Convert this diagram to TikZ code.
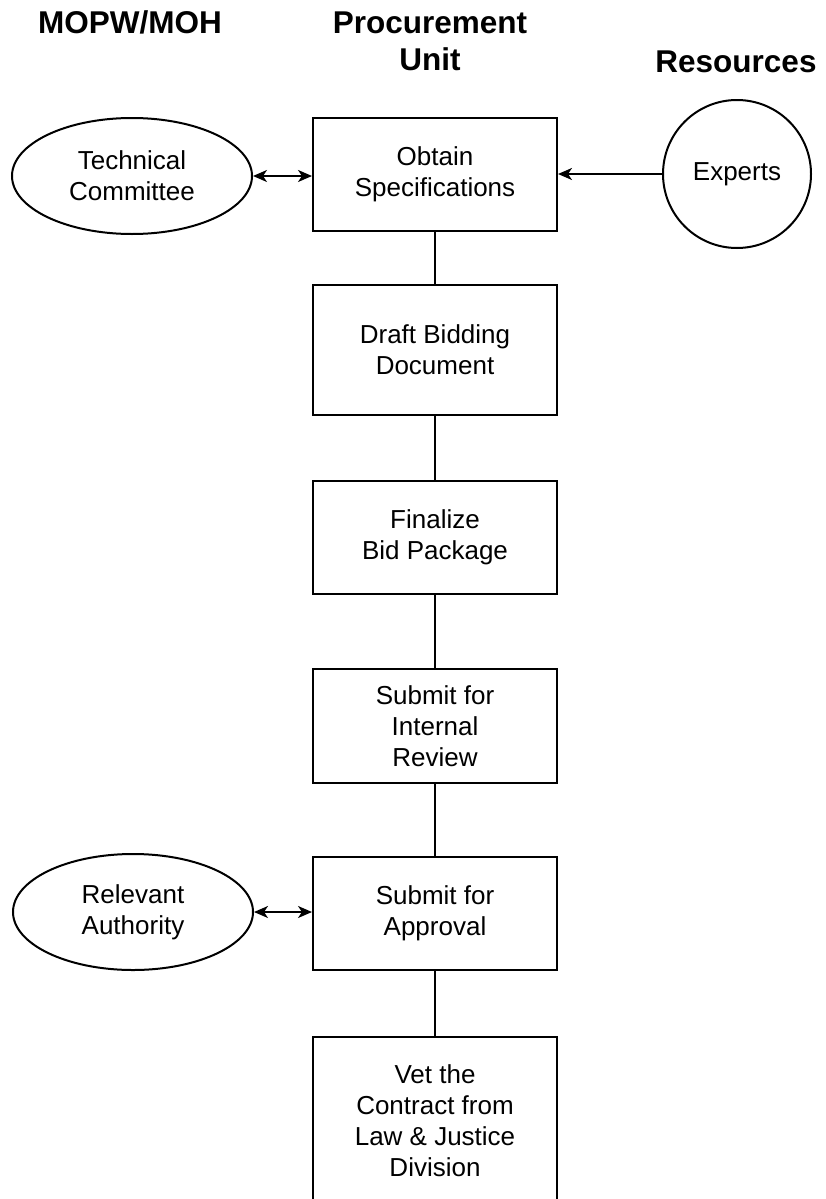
\documentclass[tikz,border=0pt]{standalone}
\usepackage{fontspec}
\setmainfont{Liberation Sans}
\usetikzlibrary{arrows.meta,shapes.geometric}
\begin{document}
\begin{tikzpicture}[x=1pt,y=-1pt,
  stepbox/.style={draw,line width=2pt,minimum width=244pt,align=center,
    inner sep=0pt,font=\fontsize{26}{31}\selectfont},
  party/.style={draw,ellipse,line width=2pt,minimum width=240pt,minimum height=116pt,
    align=center,inner sep=0pt,font=\fontsize{26}{31}\selectfont},
  source/.style={draw,circle,line width=2pt,minimum size=148pt,
    inner sep=0pt,font=\fontsize{26}{31}\selectfont},
  header/.style={align=center,inner sep=0pt,font=\bfseries\fontsize{31.5}{37}\selectfont},
  link/.style={line width=2pt},
  tip/.tip={Stealth[length=14pt,width=12pt,inset=4pt]},
  flow/.style={line width=2pt,-tip},
  both/.style={line width=2pt,tip-tip}
]
\useasboundingbox (0,0) rectangle (825,1199);

% column headings
\node[header,anchor=base] (hmin) at (130,34) {MOPW/MOH};
\node[header,anchor=north] (hproc) at (430,11.5) {Procurement\\Unit};
\node[header,anchor=base] (hres) at (736,72) {Resources};

% procurement steps
\node[stepbox,minimum height=113pt] (s1) at (435,174.5) {Obtain\\Specifications};
\node[stepbox,minimum height=130pt] (s2) at (435,350) {Draft Bidding\\Document};
\node[stepbox,minimum height=113pt] (s3) at (435,537.5) {Finalize\\Bid Package};
\node[stepbox,minimum height=114pt] (s4) at (435,726) {Submit for\\Internal\\Review};
\node[stepbox,minimum height=113pt] (s5) at (435,913.5) {Submit for\\Approval};
\node[stepbox,minimum height=168pt] (s6) at (435,1121) {Vet the\\Contract from\\Law \& Justice\\Division};

% parties and resources
\node[party] (tc) at (132,176) {Technical\\Committee};
\node[party] (ra) at (133,912) {Relevant\\Authority};
\node[source] (ex) at (737,174) {Experts};

% connectors
\draw[link] (s1) -- (s2);
\draw[link] (s2) -- (s3);
\draw[link] (s3) -- (s4);
\draw[link] (s4) -- (s5);
\draw[link] (s5) -- (s6);
\draw[both] (tc) -- (tc -| s1.west);
\draw[both] (ra) -- (ra -| s5.west);
\draw[flow] (ex) -- (ex -| s1.east);
\end{tikzpicture}
\end{document}
